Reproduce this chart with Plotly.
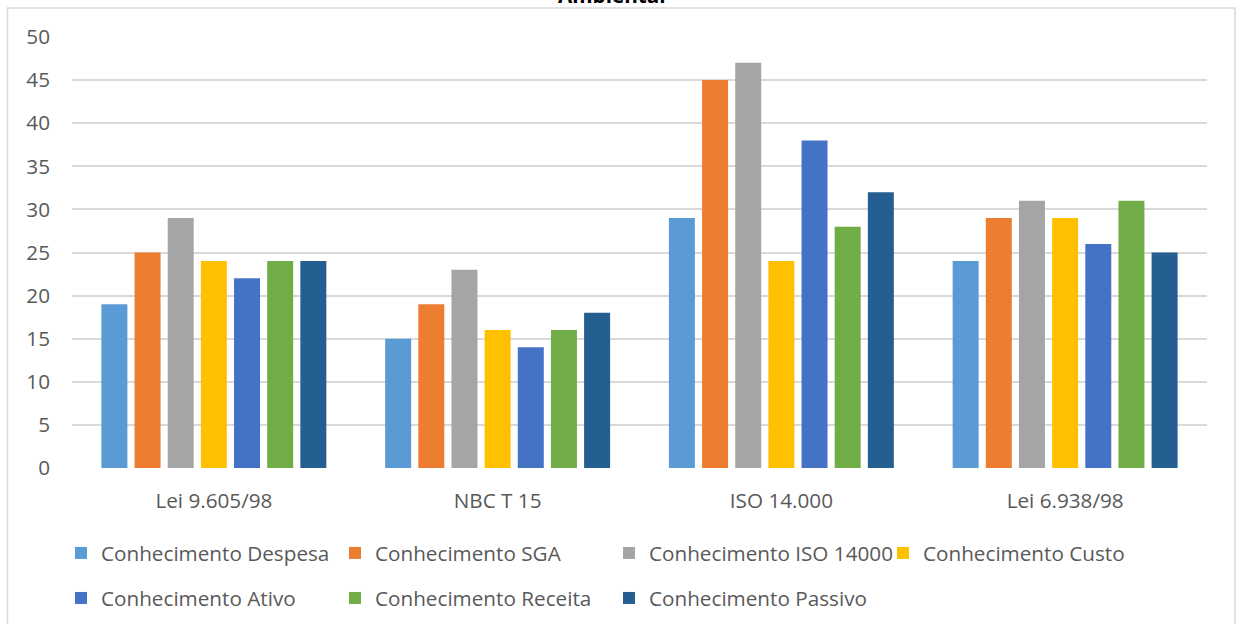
import plotly.graph_objects as go

categories = ["Lei 9.605/98", "NBC T 15", "ISO 14.000", "Lei 6.938/98"]
series_names = [
    "Conhecimento Despesa",
    "Conhecimento SGA",
    "Conhecimento ISO 14000",
    "Conhecimento Custo",
    "Conhecimento Ativo",
    "Conhecimento Receita",
    "Conhecimento Passivo",
]
despesa = [19, 15, 29, 24]
sga = [25, 19, 45, 29]
iso14000 = [29, 23, 47, 31]
custo = [24, 16, 24, 29]
ativo = [22, 14, 38, 26]
receita = [24, 16, 28, 31]
passivo = [24, 18, 32, 25]
series_values = [despesa, sga, iso14000, custo, ativo, receita, passivo]
colors = ["#5B9BD5", "#ED7D31", "#A5A5A5", "#FFC000", "#4472C4", "#70AD47", "#255E91"]
y_ticks = [0, 5, 10, 15, 20, 25, 30, 35, 40, 45, 50]

FONT = "Open Sans"
FS = 20.7
TXT = "#595959"
W, H = 1237, 624
ML, MR, MT, MB = 72, 30, 37, 156
PW = W - ML - MR
PH = H - MT - MB

def px_x(p):
    return (p - ML) / PW

def px_y(p):
    return (H - MB - p) / PH

def cx(p):
    return p / W

def cy(p):
    return (H - p) / H

fig = go.Figure()
for i, (name, vals, col) in enumerate(zip(series_names, series_values, colors)):
    fig.add_trace(go.Bar(
        x=categories, y=vals, name=name, marker_color=col,
        marker_line_width=0,
        legend="legend" if i < 4 else "legend2",
    ))

legend_common = dict(
    orientation="h", xanchor="left", yanchor="middle",
    xref="container", yref="container",
    font=dict(family=FONT, size=FS, color=TXT),
    entrywidth=229, entrywidthmode="pixels", itemwidth=30,
    bgcolor="rgba(0,0,0,0)", traceorder="normal",
    itemclick=False, itemdoubleclick=False,
)

fig.update_layout(
    width=W, height=H, autosize=False,
    margin=dict(l=ML, r=MR, t=MT, b=MB, autoexpand=False),
    paper_bgcolor="white", plot_bgcolor="white",
    barmode="group", bargap=0.182, bargroupgap=0.216,
    font=dict(family=FONT, size=FS, color=TXT),
    showlegend=True,
    legend=dict(x=cx(61), y=cy(553), **legend_common),
    legend2=dict(x=cx(61), y=cy(598), **legend_common),
    xaxis=dict(
        showgrid=False, showline=False, zeroline=False,
        tickfont=dict(family=FONT, size=FS, color=TXT),
        ticks="", ticklabelstandoff=18, automargin=False,
    ),
    yaxis=dict(
        range=[0, 50], tickvals=y_ticks, showgrid=True,
        gridcolor="#D9D9D9", gridwidth=1.5, zeroline=False, showline=False,
        tickfont=dict(family=FONT, size=FS, color=TXT),
        ticks="", ticklabelstandoff=21, automargin=False,
    ),
    shapes=[dict(
        type="rect", xref="paper", yref="paper",
        x0=px_x(7.5), x1=px_x(1235), y0=px_y(640), y1=px_y(8),
        line=dict(color="#D9D9D9", width=1.5), fillcolor="rgba(0,0,0,0)",
        layer="below",
    )],
    annotations=[dict(
        text="<b>Ambiental</b>", xref="paper", yref="paper",
        x=px_x(612), y=px_y(10.5), xanchor="center", yanchor="bottom",
        showarrow=False, font=dict(family=FONT, size=FS, color="#000000"),
    )],
)

fig.write_html(
    "out.html",
    config={"displayModeBar": False},
    post_script="document.body.style.margin='0';",
)
